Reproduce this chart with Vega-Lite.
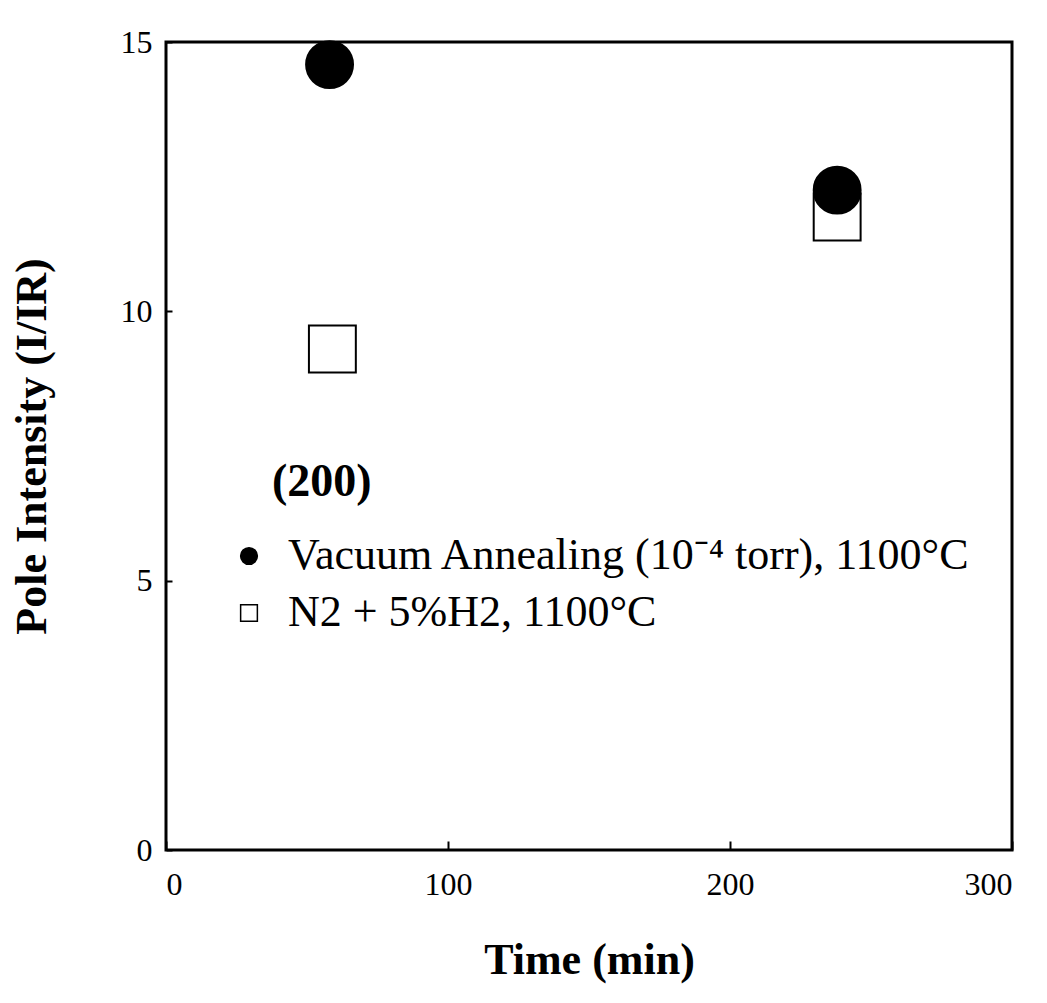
{
  "$schema": "https://vega.github.io/schema/vega-lite/v6.json",
  "width": 846,
  "height": 808,
  "autosize": {"type": "none"},
  "padding": {"left": 166, "top": 42, "right": 35, "bottom": 153},
  "background": "white",
  "config": {
    "font": "Liberation Serif",
    "view": {"stroke": "black", "strokeWidth": 3}
  },
  "title": {
    "text": "(200)",
    "anchor": "start",
    "frame": "group",
    "font": "Liberation Serif",
    "fontSize": 46,
    "fontWeight": "bold",
    "color": "black",
    "baseline": "alphabetic",
    "offset": 0,
    "dx": 106,
    "dy": 516
  },
  "data": {
    "values": [
      {"time": 59, "intensity": 9.3, "condition": "N2 + 5%H2, 1100°C"},
      {"time": 238, "intensity": 11.75, "condition": "N2 + 5%H2, 1100°C"},
      {"time": 58, "intensity": 14.58, "condition": "Vacuum Annealing (10⁻⁴ torr), 1100°C"},
      {"time": 238, "intensity": 12.25, "condition": "Vacuum Annealing (10⁻⁴ torr), 1100°C"}
    ]
  },
  "mark": {"type": "point", "filled": true, "stroke": "black", "strokeWidth": 2, "opacity": 1, "size": 2200},
  "encoding": {
    "x": {
      "field": "time",
      "type": "quantitative",
      "scale": {"domain": [0, 300], "nice": false},
      "axis": {
        "title": "Time (min)",
        "values": [0, 100, 200, 300],
        "grid": false,
        "domain": false,
        "tickColor": "black",
        "tickWidth": 2,
        "tickSize": -9,
        "labelPadding": 28,
        "labelFontSize": 32,
        "labelColor": "black",
        "labelFont": "Liberation Serif",
        "titleFont": "Liberation Serif",
        "titleFontSize": 44,
        "titleFontWeight": "bold",
        "titleColor": "black",
        "titlePadding": 38
      }
    },
    "y": {
      "field": "intensity",
      "type": "quantitative",
      "scale": {"domain": [0, 15], "nice": false},
      "axis": {
        "title": "Pole Intensity (I/IR)",
        "values": [0, 5, 10, 15],
        "grid": false,
        "domain": false,
        "tickColor": "black",
        "tickWidth": 2,
        "tickSize": -6,
        "labelPadding": 20,
        "labelFontSize": 32,
        "labelColor": "black",
        "labelFont": "Liberation Serif",
        "titleFont": "Liberation Serif",
        "titleFontSize": 44,
        "titleFontWeight": "bold",
        "titleColor": "black",
        "titlePadding": 66
      }
    },
    "shape": {
      "field": "condition",
      "type": "nominal",
      "scale": {
        "domain": ["Vacuum Annealing (10⁻⁴ torr), 1100°C", "N2 + 5%H2, 1100°C"],
        "range": ["circle", "square"]
      },
      "legend": {
        "title": null,
        "orient": "none",
        "legendX": 61,
        "legendY": 492,
        "padding": 0,
        "symbolSize": 280,
        "labelFont": "Liberation Serif",
        "labelFontSize": 44,
        "labelColor": "black",
        "labelOffset": 17,
        "labelLimit": 900,
        "rowPadding": 13,
        "encode": {
          "symbols": {
            "update": {
              "stroke": {"value": "black"},
              "strokeWidth": {"value": 2}
            }
          }
        }
      }
    },
    "fill": {
      "field": "condition",
      "type": "nominal",
      "scale": {
        "domain": ["Vacuum Annealing (10⁻⁴ torr), 1100°C", "N2 + 5%H2, 1100°C"],
        "range": ["black", "white"]
      }
    }
  }
}
